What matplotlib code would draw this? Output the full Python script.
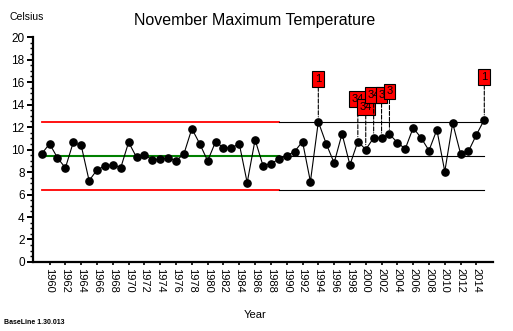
import numpy as np
import matplotlib
matplotlib.use("Agg")
import matplotlib.pyplot as plt
from matplotlib.ticker import MultipleLocator, FixedLocator

plt.rcParams['font.family'] = ['Liberation Sans', 'DejaVu Sans']

# November maximum temperature, one value per year
years = np.arange(1959, 2016)
temps = [9.62, 10.51, 9.26, 8.37, 10.65, 10.36, 7.23, 8.19, 8.54, 8.66,
         8.37, 10.65, 9.31, 9.55, 9.08, 9.14, 9.26, 8.99, 9.62, 11.85,
         10.51, 8.99, 10.69, 10.15, 10.15, 10.51, 7.05, 10.87, 8.57, 8.75,
         9.14, 9.46, 9.82, 10.71, 7.14, 12.47, 10.51, 8.81, 11.40, 8.63,
         10.71, 10.00, 11.04, 11.04, 11.37, 10.62, 10.06, 11.93, 11.04, 9.91,
         11.76, 8.04, 12.35, 9.62, 9.85, 11.31, 12.65]

# control limits (baseline period, then extended period)
base_span = [1959, 1989]
ext_span = [1989, 2015]
centre = 9.40
ucl = 12.42
lcl = 6.38

# rule-break flags
flag_years = [1994, 1999, 2000, 2001, 2002, 2003, 2015]
flag_labels = ['1', '34', '34', '34', '3', '3', '1']

fig = plt.figure(figsize=(5.13, 3.31), dpi=100)
ax = fig.add_axes([0.0643, 0.2085, 0.8967, 0.6795])

ax.plot(base_span, [ucl, ucl], color='red', lw=1.3, zorder=2)
ax.plot(base_span, [lcl, lcl], color='red', lw=1.3, zorder=2)
ax.plot(base_span, [centre, centre], color='green', lw=1.5, zorder=2)
for v in (ucl, centre, lcl):
    ax.plot(ext_span, [v, v], color='black', lw=0.8, zorder=2)

ax.plot(years, temps, color='black', lw=0.8, marker='o', ms=5.2,
        mfc='black', mec='black', zorder=3)

temp_by_year = dict(zip(years.tolist(), temps))
for yr, lab in zip(flag_years, flag_labels):
    v = temp_by_year[yr]
    ax.annotate(lab, xy=(yr, v), xytext=(yr, v + 3.8), textcoords='data',
                ha='center', va='center', fontsize=8, color='black',
                bbox=dict(boxstyle='square,pad=0.25', fc='red', ec='black', lw=0.8),
                arrowprops=dict(arrowstyle='-', linestyle='--', color='black',
                                lw=0.8, shrinkA=0, shrinkB=3.5),
                zorder=4)

ax.set_xlim(1957.9, 2016.1)
ax.set_ylim(0, 20)

ax.spines['top'].set_visible(False)
ax.spines['right'].set_visible(False)
ax.spines['left'].set_linewidth(1.6)
ax.spines['bottom'].set_linewidth(1.6)

ax.xaxis.set_major_locator(FixedLocator(np.arange(1960, 2016, 2)))
ax.xaxis.set_minor_locator(FixedLocator(np.arange(1968, 2016, 10)))
ax.yaxis.set_major_locator(MultipleLocator(2))
ax.yaxis.set_minor_locator(MultipleLocator(0.5))
ax.tick_params(axis='x', which='major', length=2.5, width=1.2, labelsize=8,
               rotation=270, pad=2)
ax.tick_params(axis='x', which='minor', length=4.5, width=1.6)
ax.tick_params(axis='y', which='major', length=4, width=1.4, labelsize=8.5, pad=2)
ax.tick_params(axis='y', which='minor', length=2.2, width=1.0)

fig.text(255 / 513, 1 - 20 / 331, 'November Maximum Temperature',
         ha='center', va='center', fontsize=11.5)
fig.text(27 / 513, 1 - 17 / 331, 'Celsius', ha='center', va='center', fontsize=7.5)
fig.text(255 / 513, 1 - 315 / 331, 'Year', ha='center', va='center', fontsize=8)
fig.text(4 / 513, 1 - 322 / 331, 'BaseLine 1.30.013', ha='left', va='center',
         fontsize=5, fontweight='bold')

fig.savefig('out.png', dpi=100)
